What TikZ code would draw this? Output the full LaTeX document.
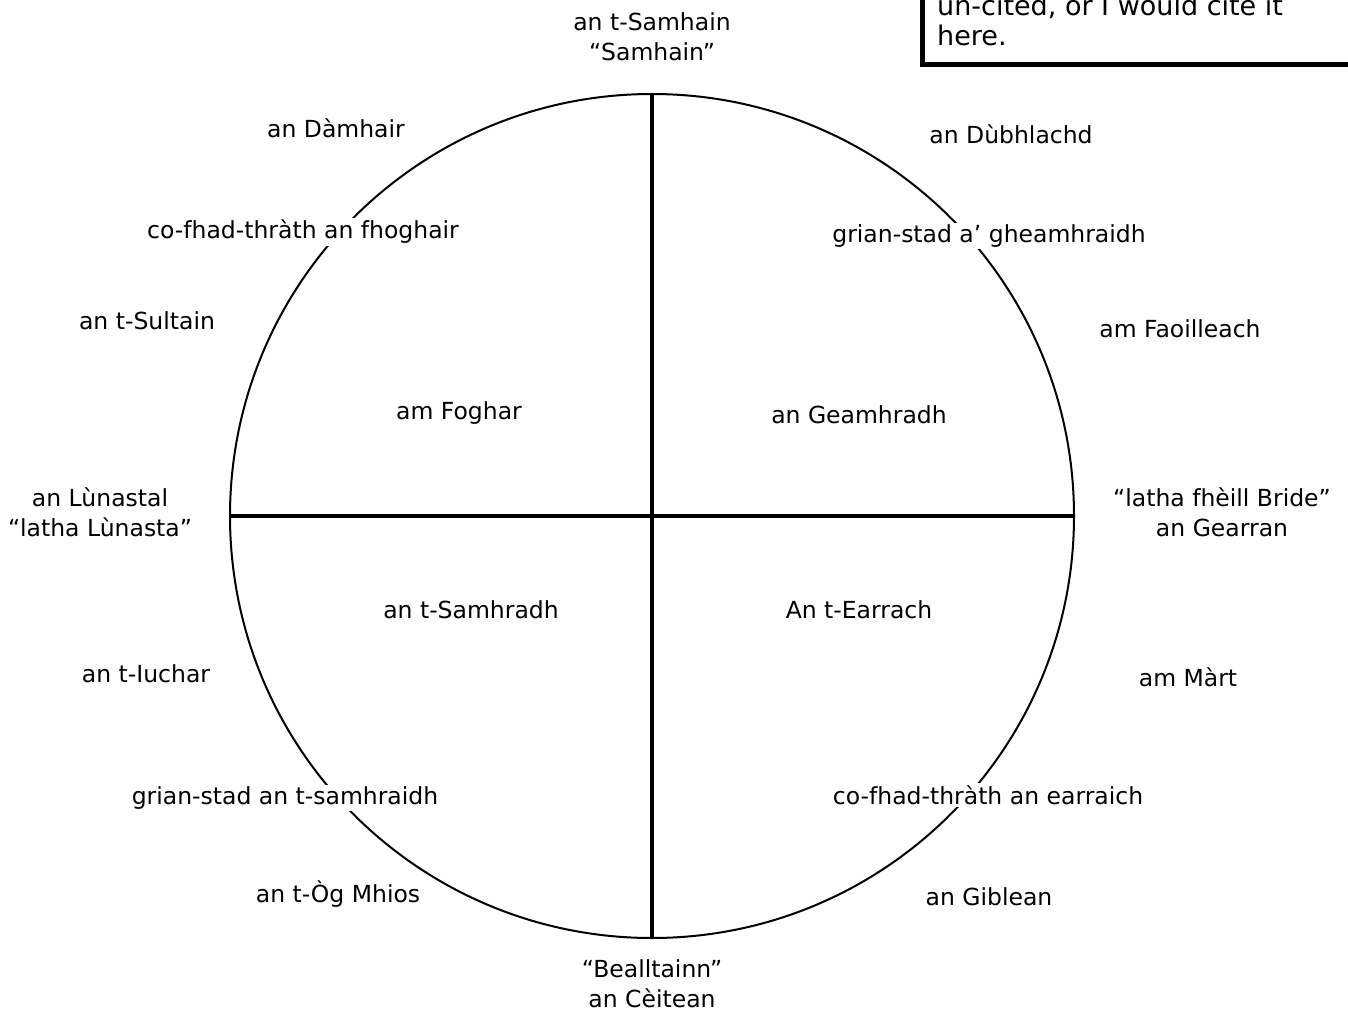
\documentclass[tikz,border=0pt]{standalone}
\usepackage{fontspec}
\setmainfont{DejaVu Sans}
\begin{document}
\begin{tikzpicture}[x=1pt,y=-1pt,
  lbl/.style={font=\fontsize{23.5}{30}\selectfont, align=center, inner sep=1pt},
  notetext/.style={font=\fontsize{27}{30}\selectfont, inner sep=1pt},
  onring/.style={lbl, fill=white, inner sep=2pt},
  divider/.style={line width=4.8pt},
  ring/.style={line width=2pt}]
\useasboundingbox (0,0) rectangle (1348,1011);
\fill[white] (0,0) rectangle (1348,1011);
% circle
\coordinate (c) at (652,516);
\draw[ring] (c) circle [radius=422];
\coordinate (top) at (652,94);
\coordinate (bot) at (652,938);
\coordinate (lft) at (230,516);
\coordinate (rgt) at (1074,516);
\draw[divider] (top) -- (bot);
\draw[divider] (lft) -- (rgt);
% note box (cropped)
\begin{scope}
\clip (0,0) rectangle (1348,1011);
\draw[line width=5pt] (922,-60) rectangle (1400,65);
\end{scope}
\node[notetext, anchor=base west] (note1) at (936,16) {un-cited, or I would cite it};
\node[notetext, anchor=base west] (note2) at (936,46) {here.};
% labels
\node[lbl] (samhain) at (652,37) {an t-Samhain\\“Samhain”};
\node[lbl] (damhair) at (336,128) {an Dàmhair};
\node[lbl] (dubhlachd) at (1011,134) {an Dùbhlachd};
\node[onring] (fhoghair) at (303,232) {co-fhad-thràth an fhoghair};
\node[onring] (gheamhraidh) at (989,236) {grian-stad a’ gheamhraidh};
\node[lbl] (sultain) at (147,321) {an t-Sultain};
\node[lbl] (faoilleach) at (1180,329) {am Faoilleach};
\node[lbl] (foghar) at (459,413) {am Foghar};
\node[lbl] (geamhradh) at (859,415) {an Geamhradh};
\node[lbl] (lunastal) at (100,512) {an Lùnastal\\“latha Lùnasta”};
\node[lbl] (bride) at (1222,512) {“latha fhèill Bride”\\an Gearran};
\node[lbl] (samhradh) at (471,610) {an t-Samhradh};
\node[lbl] (earrach) at (859,610) {An t-Earrach};
\node[lbl] (iuchar) at (146,674) {an t-Iuchar};
\node[lbl] (mart) at (1188,677) {am Màrt};
\node[onring] (samhraidh) at (285,798) {grian-stad an t-samhraidh};
\node[onring] (earraich) at (988,795) {co-fhad-thràth an earraich};
\node[lbl] (og) at (338,894) {an t-Òg Mhios};
\node[lbl] (giblean) at (989,897) {an Giblean};
\node[lbl] (bealltainn) at (652,984) {“Bealltainn”\\an Cèitean};
\end{tikzpicture}
\end{document}
